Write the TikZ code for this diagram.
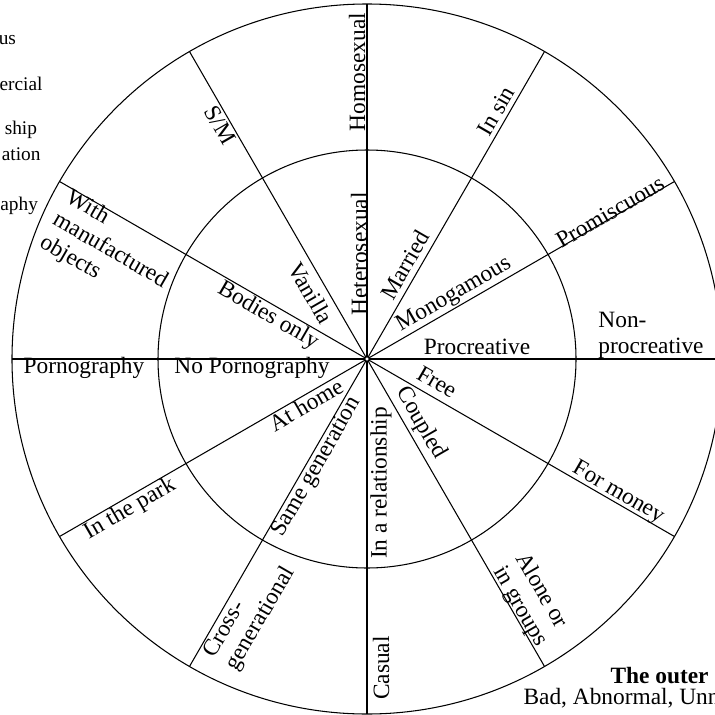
\documentclass[tikz,border=0pt]{standalone}
\usepackage{fontspec}
\setmainfont{Liberation Serif}
\usetikzlibrary{positioning}

\tikzset{
  lbl/.style={font=\fontsize{13.3}{14.8}\selectfont, inner sep=1pt},
  lblm/.style={lbl, align=left},
  side/.style={font=\fontsize{11}{13.5}\selectfont, inner sep=0pt, anchor=base east},
}

\begin{document}
\begin{tikzpicture}[line width=0.6pt]
    \useasboundingbox (0,0) rectangle (14.3,14.28);
    \clip (0,0) rectangle (14.3,14.28);
    \coordinate (ctr) at (7.34,7.10);

    % wheel
    \draw (ctr) circle (7.1);
    \draw (ctr) circle (4.18);
    \foreach \a in {0,30,...,330}
        \draw (ctr) -- ++(\a:7.1);
    \draw[fill=white, line width=0.9pt] (ctr) circle (0.05);

    \begin{scope}[shift={(ctr)}]
        % inner ring
        \node[lbl] (procr) at (2.20,0.24) {Procreative};
        \node[lbl, rotate=30] (monog) at (1.74,1.28) {Monogamous};
        \node[lbl, rotate=60] (marr) at (0.76,1.88) {Married};
        \node[lbl, rotate=90] (hetero) at (-0.16,2.10) {Heterosexual};
        \node[lbl, rotate=-60] (vanil) at (-1.12,1.32) {Vanilla};
        \node[lbl, rotate=-30] (bodies) at (-1.98,0.86) {Bodies only};
        \node[lbl] (noporn) at (-2.30,-0.18) {No Pornography};
        \node[lbl, rotate=30] (home) at (-1.22,-0.92) {At home};
        \node[lbl, rotate=60] (samegen) at (-1.00,-2.16) {Same generation};
        \node[lbl, rotate=90] (inrel) at (0.28,-2.48) {In a relationship};
        \node[lbl, rotate=-60] (coupl) at (1.08,-1.28) {Coupled};
        \node[lbl, rotate=-30] (free) at (1.40,-0.46) {Free};

        % outer ring
        \node[lblm] (nonprocr) at (5.68,0.48) {Non-\\procreative};
        \node[lbl, rotate=30] (promisc) at (4.86,2.94) {Promiscuous};
        \node[lbl, rotate=60] (insin) at (2.58,4.96) {In sin};
        \node[lbl, rotate=90] (homo) at (-0.20,5.74) {Homosexual};
        \node[lbl, rotate=-60] (sm) at (-2.94,4.68) {S/M};
        \node[lblm, rotate=-30] (objects) at (-5.14,2.16) {With\\manufactured\\objects};
        \node[lbl] (porn) at (-5.66,-0.18) {Pornography};
        \node[lbl, rotate=30] (park) at (-4.74,-3.00) {In the park};
        \node[lblm, rotate=60] (crossgen) at (-2.34,-5.07) {Cross-\\generational};
        \node[lbl, rotate=90] (casual) at (0.28,-6.18) {Casual};
        \node[lblm, rotate=-60] (alone) at (3.28,-4.82) {Alone or\\in groups};
        \node[lbl, rotate=-30] (money) at (5.02,-2.68) {For money};
    \end{scope}

    % cut-off legend on the left
    \node[side] (leg1) at (0.33,13.38) {us};
    \node[side] (leg2) at (0.86,12.46) {ercial};
    \node[side] (leg3) at (0.75,11.58) {ship};
    \node[side] (leg4) at (0.82,11.06) {ation};
    \node[side] (leg5) at (0.77,10.08) {aphy};

    % cut-off caption
    \node[lbl, anchor=base west, inner sep=0pt] (outer) at (12.2,0.62) {\textbf{The outer}};
    \node[lbl, anchor=base west, inner sep=0pt] (badsex) at (10.46,0.20) {Bad, Abnormal, Unn};
\end{tikzpicture}
\end{document}
